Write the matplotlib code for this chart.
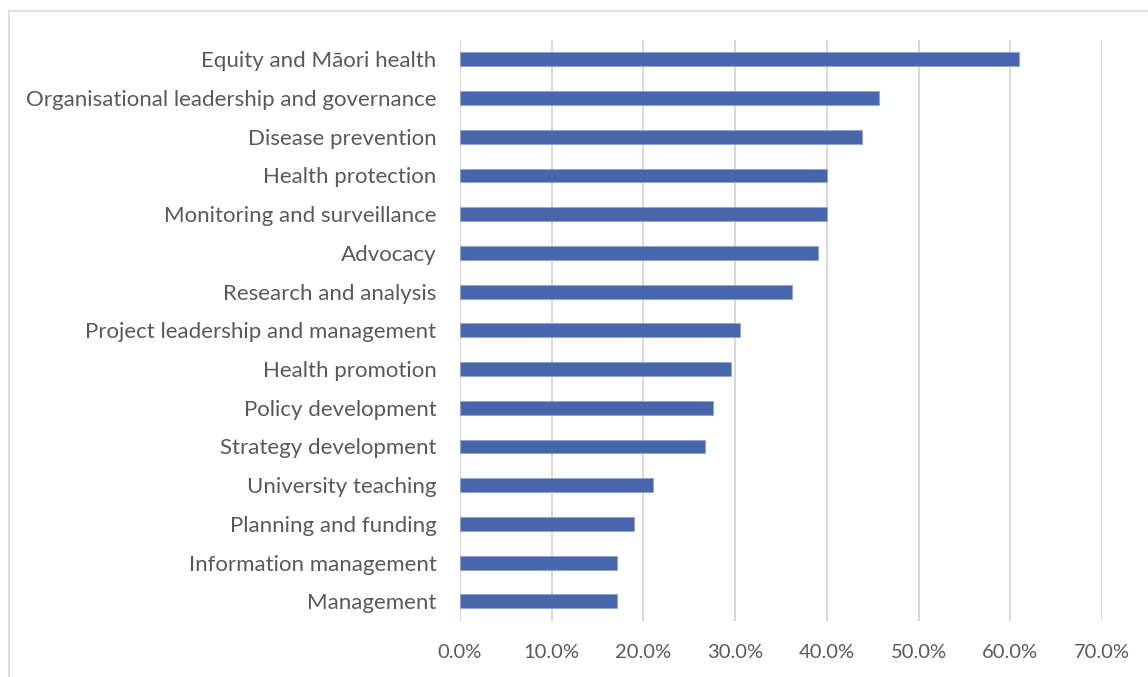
import matplotlib
matplotlib.use("Agg")
import matplotlib.pyplot as plt
from matplotlib.lines import Line2D
from matplotlib.ticker import PercentFormatter, MultipleLocator

categories = [
    "Equity and Māori health",
    "Organisational leadership and governance",
    "Disease prevention",
    "Health protection",
    "Monitoring and surveillance",
    "Advocacy",
    "Research and analysis",
    "Project leadership and management",
    "Health promotion",
    "Policy development",
    "Strategy development",
    "University teaching",
    "Planning and funding",
    "Information management",
    "Management",
]
shares = [61.0, 45.7, 43.8, 40.0, 40.0, 39.0, 36.2, 30.5, 29.5, 27.6, 26.7, 21.0, 19.0, 17.1, 17.1]

plt.rcParams["font.family"] = ["Lato", "DejaVu Sans"]

W, H = 1148, 677
fig = plt.figure(figsize=(W / 100, H / 100), dpi=100)
ax = fig.add_axes([460 / W, 1 - 620.7 / H, (1102 - 460) / W, (620.7 - 40) / H])

ypos = list(range(len(categories)))
ax.barh(ypos, shares, height=0.36, color="#4866AD", edgecolor="#8FA2D0", linewidth=0.5, zorder=3)
ax.set_yticks(ypos)
ax.set_yticklabels(categories)
ax.set_ylim(len(categories) - 0.5, -0.5)
ax.set_xlim(0, 70)
ax.xaxis.set_major_locator(MultipleLocator(10))
ax.xaxis.set_major_formatter(PercentFormatter(decimals=1))

ax.grid(axis="x", color="#D9D9D9", linewidth=1.5, zorder=0)
for s in ax.spines.values():
    s.set_visible(False)
ax.tick_params(axis="both", length=0, labelcolor="#595959")
ax.tick_params(axis="y", pad=17, labelsize=16)
ax.tick_params(axis="x", pad=17, labelsize=14.5)

# chart frame
fig.add_artist(Line2D([9 / W, 9 / W], [0, 1 - 11 / H], transform=fig.transFigure, color="#D9D9D9", linewidth=1.2))
fig.add_artist(Line2D([9 / W, 1], [1 - 11 / H, 1 - 11 / H], transform=fig.transFigure, color="#D9D9D9", linewidth=1.2))

fig.savefig("out.png", dpi=100)
